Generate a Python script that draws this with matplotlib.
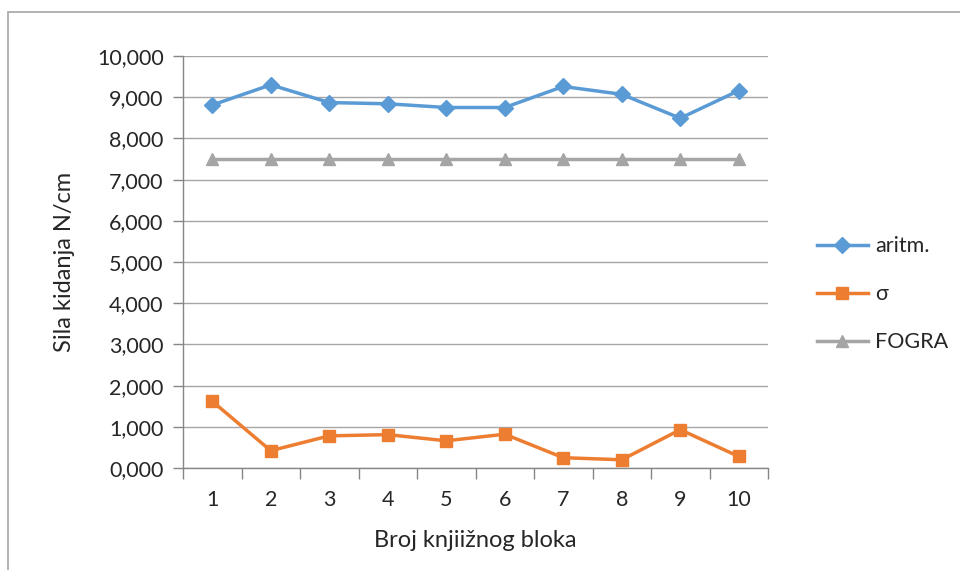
import matplotlib.pyplot as plt
from matplotlib.patches import Rectangle

plt.rcParams['font.family'] = ['Lato', 'DejaVu Sans']

blokovi = [1, 2, 3, 4, 5, 6, 7, 8, 9, 10]
aritm = [8.81, 9.30, 8.87, 8.84, 8.75, 8.75, 9.26, 9.07, 8.49, 9.16]
sigma = [1.62, 0.42, 0.78, 0.81, 0.66, 0.82, 0.25, 0.20, 0.93, 0.28]
fogra = [7.5] * 10
y_ticks = [0, 1, 2, 3, 4, 5, 6, 7, 8, 9, 10]

fig = plt.figure(figsize=(9.6, 5.7), dpi=100)
ax = fig.add_axes([183 / 960, 1 - 468 / 570, 585 / 960, 412 / 570])

# chart area border (cut off on right and bottom in the original)
fig.patches.append(Rectangle((8 / 960, -0.1), 1.2, 1 - 12 / 570 + 0.1,
                             transform=fig.transFigure, fill=False,
                             edgecolor='#a6a6a6', linewidth=1.2))

ax.plot(blokovi, aritm, color='#5b9bd5', linewidth=2.5, marker='D',
        markersize=8, label='aritm.', zorder=4)
ax.plot(blokovi, sigma, color='#ed7d31', linewidth=2.5, marker='s',
        markersize=9, label='σ', zorder=4)
ax.plot(blokovi, fogra, color='#a5a5a5', linewidth=2.5, marker='^',
        markersize=9, label='FOGRA', zorder=3)

ax.set_xlim(0.5, 10.5)
ax.set_ylim(0, 10)
ax.set_yticks(y_ticks)
ax.set_yticklabels([f"{v:.3f}".replace('.', ',') for v in y_ticks])
ax.set_xticks(blokovi)
ax.set_xticks([b - 0.5 for b in blokovi] + [10.5], minor=True)
ax.tick_params(axis='x', which='major', length=0, pad=16, labelsize=15.5, colors='#262626')
ax.tick_params(axis='x', which='minor', length=8, color='#868686', width=1)
ax.tick_params(axis='y', length=7, color='#868686', width=1, labelsize=15.5,
               colors='#262626', pad=7)
ax.yaxis.grid(True, color='#a6a6a6', linewidth=1)
ax.set_axisbelow(True)

for s in ['top', 'right']:
    ax.spines[s].set_visible(False)
for s in ['left', 'bottom']:
    ax.spines[s].set_color('#868686')
    ax.spines[s].set_linewidth(1)

ax.set_xlabel('Broj knjiižnog bloka', fontsize=17, color='#262626', labelpad=14)
ax.set_ylabel('Sila kidanja N/cm', fontsize=17, color='#262626', labelpad=16)

ax.legend(loc='center left', bbox_to_anchor=(1.05, 0.422), frameon=False,
          fontsize=15.5, labelspacing=1.3, handlelength=2.4, handletextpad=0.3,
          labelcolor='#262626')

fig.savefig('out.png', dpi=100)
